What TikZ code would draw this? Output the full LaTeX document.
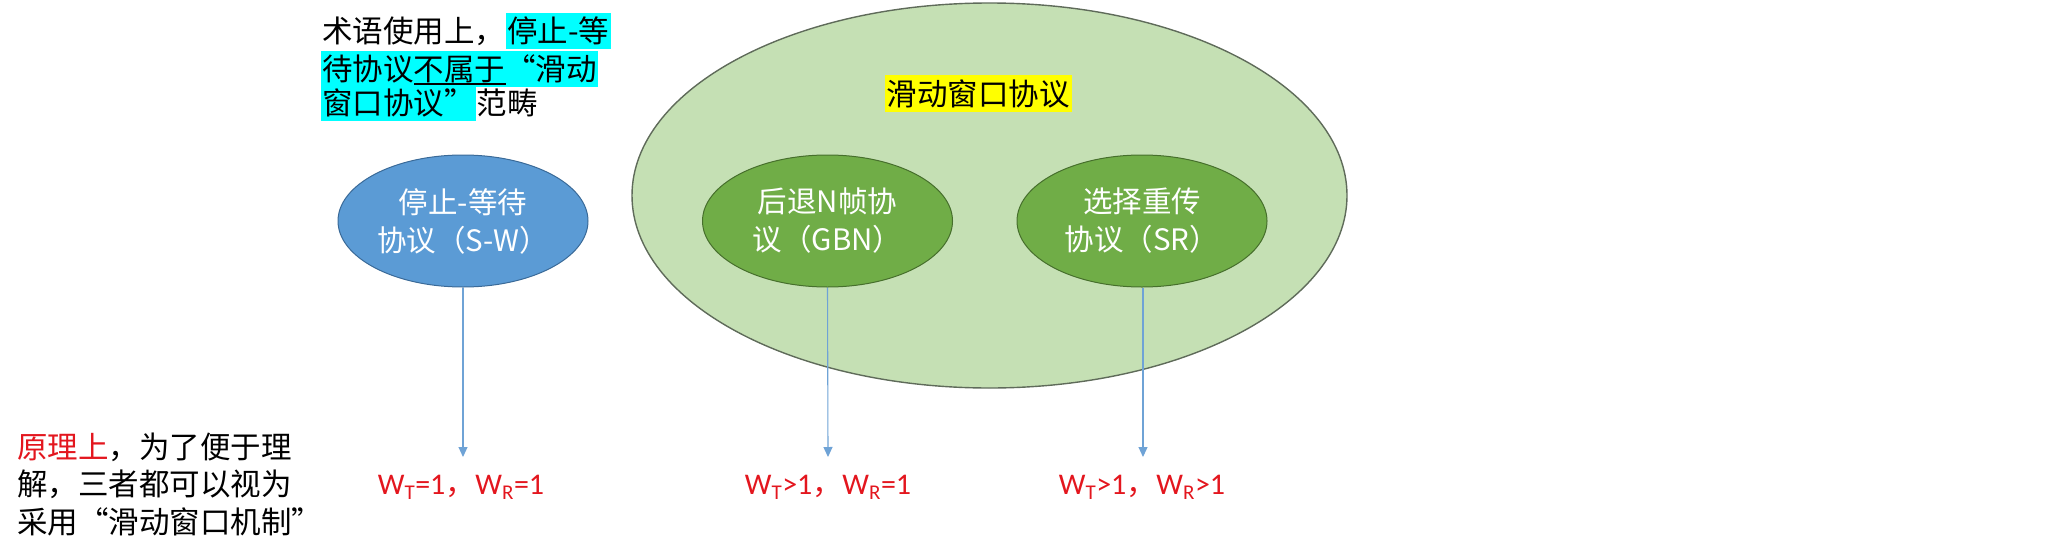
\documentclass[tikz,border=0pt]{standalone}
\usepackage{fontspec}
\setmainfont{Noto Sans CJK SC}
\newfontfamily\lat{Carlito}
\usetikzlibrary{shapes.geometric,arrows.meta}
\definecolor{swblue}{HTML}{5B9BD5}
\definecolor{swedge}{HTML}{3A6A98}
\definecolor{ggreen}{HTML}{70AD47}
\definecolor{gedge}{HTML}{466F2C}
\definecolor{lgreen}{HTML}{C5E0B4}
\definecolor{bigedge}{HTML}{5F6B5A}
\definecolor{hlcyan}{HTML}{00FFFF}
\definecolor{hlyellow}{HTML}{FFFF00}
\definecolor{lblred}{HTML}{E3161E}
\definecolor{arrblue}{HTML}{6FA3D6}
\newcommand\fwq[1]{{\addfontfeature{RawFeature=+fwid}#1}}
\begin{document}
\begin{tikzpicture}[x=1pt,y=-1pt,
 txt/.style={inner sep=0pt, font=\fontsize{30.5}{38}\selectfont, text height=26.8pt, text depth=3.7pt, anchor=west},
 hl/.style={txt, fill=hlcyan, inner xsep=1.5pt, inner ysep=3pt},
 proto/.style={ellipse, draw, line width=1pt, inner sep=0pt, minimum width=250pt, minimum height=132pt, text=white, align=center, font=\fontsize{29.5}{38}\selectfont},
 big/.style={ellipse, draw=bigedge, fill=lgreen, line width=1.4pt, minimum width=715pt, minimum height=385pt},
 arr/.style={draw=arrblue, line width=1.1pt, -{Triangle[width=9pt,length=10pt]}},
 lbl/.style={text=lblred, font=\lat\fontsize{30}{36}\selectfont, inner sep=0pt}
]
\useasboundingbox (0,0) rectangle (2071,546);
% big ellipse
\node[big] (swp) at (989.5,195.5) {};
\node[txt, anchor=center, fill=hlyellow, inner xsep=2pt, inner ysep=3.5pt] (swpt) at (978,93.5) {滑动窗口协议};
% protocols
\node[proto, fill=swblue, draw=swedge] (sw) at (463,221) {停止-等待\\协议（S-W）};
\node[proto, fill=ggreen, draw=gedge] (gbn) at (827.5,221) {后退N帧协\\议（GBN）};
\node[proto, fill=ggreen, draw=gedge] (sr) at (1142,221) {选择重传\\协议（SR）};
% labels
\node[lbl] (l1) at (461,487) {W\textsubscript{T}=1{\rmfamily ，}W\textsubscript{R}=1};
\node[lbl] (l2) at (828,487) {W\textsubscript{T}>1{\rmfamily ，}W\textsubscript{R}=1};
\node[lbl] (l3) at (1142,487) {W\textsubscript{T}>1{\rmfamily ，}W\textsubscript{R}>1};
\coordinate (t1) at (463,457);
\coordinate (t2) at (828,457);
\coordinate (t3) at (1143,457);
\draw[arr] (sw.south) -- (t1);
\draw[arr] (gbn.south) -- (t2);
\draw[arr] (sr.south -| t3) -- (t3);
% top-left note
\node[txt] (a1) at (322,31) {术语使用上，};
\node[hl, anchor=west] (a1h) at (a1.east) {停止-等};
\node[hl] (a2) at (320.5,69) {待协议不属于\fwq{“}滑动};
\node[hl] (a3) at (320.5,103) {窗口协议\fwq{”}};
\node[txt] (a3b) at (a3.east) {范畴};
\draw[line width=1.8pt] (414,84) -- (506,84);
% bottom-left note
\node[txt] (b1) at (17,447) {\textcolor{lblred}{原理上}，为了便于理};
\node[txt] (b2) at (17,484) {解，三者都可以视为};
\node[txt] (b3) at (17,522) {采用\fwq{“}滑动窗口机制\fwq{”}};
\end{tikzpicture}
\end{document}
